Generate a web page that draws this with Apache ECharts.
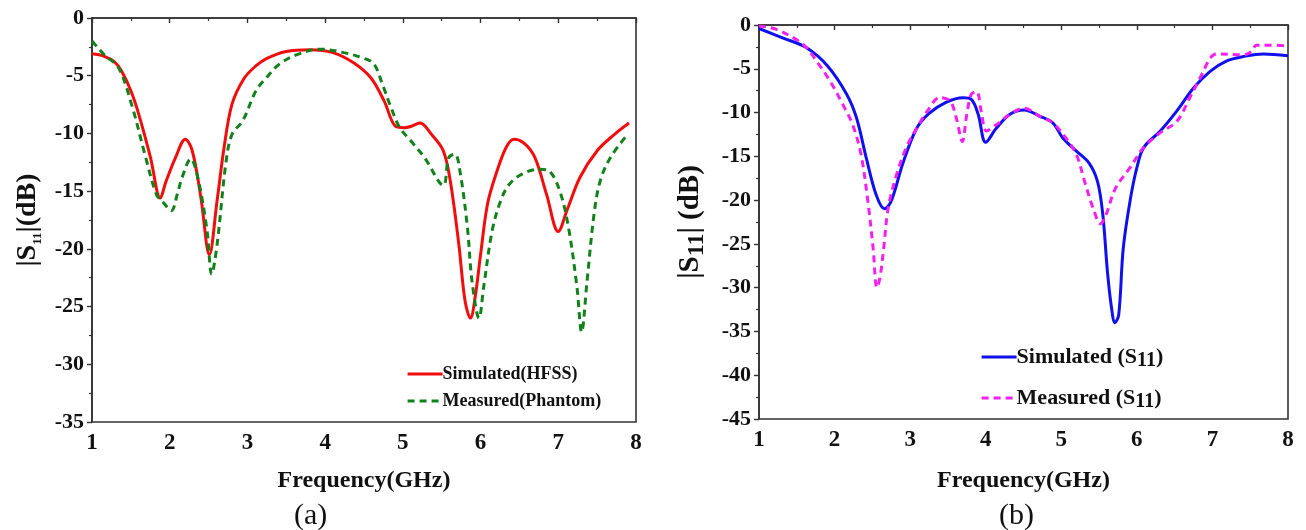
<!DOCTYPE html>
<html>
<head>
<meta charset="utf-8">
<script src="https://cdn.jsdelivr.net/npm/echarts@6/dist/echarts.min.js"></script>
<style>
  html, body { margin: 0; padding: 0; background: #fff; }
  #chart { width: 1306px; height: 530px; }
</style>
</head>
<body>
<div id="chart"></div>
<script>
// Frequency axis ticks (GHz) shared by both panels
const freqTicks = [1, 2, 3, 4, 5, 6, 7, 8];
const dbTicksA = [0, -5, -10, -15, -20, -25, -30, -35];
const dbTicksB = [0, -5, -10, -15, -20, -25, -30, -35, -40, -45];

// Panel (a): [frequency GHz, |S11| dB]
const simulatedHFSS = [
  [1.0,-3.1],[1.15,-3.3],[1.29,-3.8],[1.38,-4.6],[1.5,-6.3],[1.6,-8.3],[1.75,-12.0],
  [1.88,-15.6],[1.95,-14.2],[2.08,-12.0],[2.2,-10.5],[2.29,-11.5],[2.4,-15.5],[2.51,-20.5],
  [2.61,-15.8],[2.7,-11.2],[2.8,-7.5],[2.95,-5.3],[3.1,-4.2],[3.25,-3.5],[3.5,-2.9],
  [3.8,-2.75],[4.1,-3.0],[4.37,-3.9],[4.59,-5.2],[4.76,-7.2],[4.91,-9.4],[5.02,-9.5],
  [5.1,-9.4],[5.22,-9.1],[5.37,-10.1],[5.52,-11.5],[5.61,-14.1],[5.72,-19.6],[5.8,-24.5],
  [5.87,-26.0],[5.93,-24.2],[6.0,-20.5],[6.09,-16.1],[6.2,-13.5],[6.33,-11.2],[6.43,-10.5],
  [6.57,-10.9],[6.7,-12.1],[6.85,-15.3],[7.0,-18.5],[7.11,-16.7],[7.28,-13.8],[7.5,-11.5],
  [7.72,-10.1],[7.91,-9.1]
];
const measuredPhantom = [
  [1.0,-2.0],[1.16,-3.2],[1.34,-4.3],[1.51,-7.5],[1.68,-11.8],[1.83,-15.3],[1.92,-16.0],
  [2.02,-16.7],[2.1,-15.2],[2.16,-13.8],[2.27,-12.2],[2.37,-14.1],[2.48,-18.4],[2.54,-22.2],
  [2.61,-19.6],[2.72,-12.7],[2.8,-10.1],[2.94,-8.9],[3.11,-6.3],[3.24,-5.2],[3.41,-4.0],
  [3.63,-3.2],[3.93,-2.7],[4.24,-3.0],[4.5,-3.5],[4.63,-4.0],[4.74,-5.8],[4.85,-7.8],
  [4.96,-9.5],[5.11,-10.7],[5.28,-12.1],[5.52,-14.5],[5.59,-12.1],[5.67,-11.8],[5.74,-13.5],
  [5.83,-18.1],[5.89,-22.8],[5.98,-26.0],[6.04,-23.3],[6.15,-18.4],[6.26,-15.8],[6.37,-14.4],
  [6.54,-13.5],[6.76,-13.1],[6.89,-13.3],[7.02,-15.0],[7.13,-18.1],[7.24,-23.3],[7.3,-27.2],
  [7.37,-22.8],[7.46,-17.0],[7.54,-14.1],[7.67,-12.1],[7.89,-10.1]
];

// Panel (b): [frequency GHz, |S11| dB]
const simulatedS11 = [
  [1.0,-0.4],[1.32,-1.5],[1.63,-2.6],[1.91,-4.7],[2.16,-7.9],[2.29,-10.6],[2.42,-15.2],
  [2.55,-19.4],[2.66,-21.0],[2.75,-20.1],[2.9,-15.9],[3.08,-11.9],[3.25,-10.1],[3.48,-8.8],
  [3.7,-8.3],[3.81,-8.5],[3.9,-10.2],[4.0,-13.4],[4.14,-11.8],[4.32,-10.2],[4.51,-9.7],
  [4.71,-10.4],[4.89,-11.2],[5.02,-12.9],[5.2,-14.4],[5.37,-15.8],[5.48,-17.9],[5.55,-21.7],
  [5.61,-28.1],[5.66,-32.0],[5.71,-34.0],[5.76,-33.1],[5.82,-25.5],[5.91,-20.1],[6.0,-16.3],
  [6.09,-14.0],[6.31,-12.1],[6.53,-9.8],[6.75,-7.2],[6.97,-5.3],[7.19,-4.1],[7.41,-3.6],
  [7.67,-3.3],[8.0,-3.5]
];
const measuredS11 = [
  [1.0,-0.1],[1.23,-0.5],[1.5,-1.7],[1.63,-2.6],[1.76,-4.1],[1.94,-6.4],[2.11,-9.1],
  [2.24,-11.4],[2.35,-14.8],[2.44,-20.1],[2.51,-25.5],[2.56,-30.0],[2.6,-28.9],[2.65,-25.5],
  [2.71,-20.9],[2.82,-17.1],[2.95,-14.0],[3.08,-11.9],[3.23,-9.8],[3.39,-8.3],[3.53,-8.7],
  [3.61,-10.6],[3.69,-13.3],[3.75,-10.2],[3.81,-7.9],[3.88,-7.6],[3.94,-9.8],[4.01,-12.1],
  [4.14,-11.4],[4.32,-10.2],[4.51,-9.5],[4.71,-10.4],[4.89,-11.2],[5.06,-12.9],[5.2,-14.8],
  [5.31,-17.9],[5.42,-20.9],[5.52,-22.7],[5.59,-21.7],[5.72,-18.6],[5.91,-16.3],[6.09,-14.0],
  [6.31,-12.3],[6.53,-11.0],[6.7,-8.3],[6.84,-6.0],[6.97,-3.8],[7.05,-3.3],[7.41,-3.4],
  [7.52,-3.0],[7.58,-2.3],[7.76,-2.3],[8.0,-2.4]
];

const FONT = '"Liberation Serif", "Times New Roman", serif';
const AXIS_COLOR = '#333';

function xAxisFor(gridIndex, nameGap) {
  return {
    type: 'value', gridIndex,
    min: freqTicks[0], max: freqTicks[freqTicks.length - 1], interval: 1,
    name: 'Frequency(GHz)', nameLocation: 'middle', nameGap,
    nameTextStyle: { fontFamily: FONT, fontWeight: 'bold', fontSize: 24, color: '#111' },
    axisLine: { show: true, lineStyle: { color: AXIS_COLOR, width: 1.6 } },
    axisTick: { show: true, inside: false, length: 5, lineStyle: { color: AXIS_COLOR, width: 1.4 } },
    minorTick: { show: true, splitNumber: 2, length: 3, lineStyle: { color: AXIS_COLOR, width: 1.2 } },
    axisLabel: { fontFamily: FONT, fontWeight: 'bold', fontSize: 23, color: '#111', margin: 10 },
    splitLine: { show: false }
  };
}

function yAxisFor(gridIndex, ticks, nameRich, nameText, nameGap) {
  return {
    type: 'value', gridIndex,
    min: ticks[ticks.length - 1], max: ticks[0], interval: 5,
    name: nameText, nameLocation: 'middle', nameGap,
    nameTextStyle: { fontFamily: FONT, fontWeight: 'bold', color: '#111', rich: nameRich },
    axisLine: { show: true, lineStyle: { color: AXIS_COLOR, width: 1.6 } },
    axisTick: { show: true, inside: false, length: 5, lineStyle: { color: AXIS_COLOR, width: 1.4 } },
    minorTick: { show: true, splitNumber: 2, length: 3, lineStyle: { color: AXIS_COLOR, width: 1.2 } },
    axisLabel: { fontFamily: FONT, fontWeight: 'bold', fontSize: 22, color: '#111', margin: 8 },
    splitLine: { show: false }
  };
}

const richA = {
  t: { fontFamily: FONT, fontWeight: 'bold', fontSize: 28, color: '#111', lineHeight: 32, verticalAlign: 'middle' },
  s: { fontFamily: FONT, fontWeight: 'bold', fontSize: 13, color: '#111', lineHeight: 32, verticalAlign: 'bottom' }
};
const richB = {
  t: { fontFamily: FONT, fontWeight: 'bold', fontSize: 29, color: '#111', lineHeight: 36, verticalAlign: 'middle' },
  s: { fontFamily: FONT, fontWeight: 'bold', fontSize: 24, color: '#111', lineHeight: 36, verticalAlign: 'bottom' }
};
const legendRichB = {
  t: { fontFamily: FONT, fontWeight: 'bold', fontSize: 22, color: '#111', lineHeight: 28, verticalAlign: 'middle' },
  s: { fontFamily: FONT, fontWeight: 'bold', fontSize: 20, color: '#111', lineHeight: 28, verticalAlign: 'bottom' }
};

function lineSeries(name, data, color, dashed, axisIndex) {
  return {
    type: 'line', name, data,
    xAxisIndex: axisIndex, yAxisIndex: axisIndex,
    showSymbol: false, symbol: 'none',
    smooth: 0.35,
    lineStyle: { color, width: 3, type: dashed ? [7, 5] : 'solid' },
    itemStyle: { color },
    clip: true, animation: false
  };
}

const chart = echarts.init(document.getElementById('chart'), null, { renderer: 'canvas' });
chart.setOption({
  backgroundColor: '#fff',
  animation: false,
  grid: [
    { left: 92, top: 18, width: 544, height: 404, show: true, borderColor: AXIS_COLOR, borderWidth: 1.6, backgroundColor: 'transparent' },
    { left: 759, top: 25, width: 529, height: 394, show: true, borderColor: AXIS_COLOR, borderWidth: 1.6, backgroundColor: 'transparent' }
  ],
  xAxis: [xAxisFor(0, 47), xAxisFor(1, 50)],
  yAxis: [
    yAxisFor(0, dbTicksA, richA, '{t||S}{s|11}{t||(dB)}', 48),
    yAxisFor(1, dbTicksB, richB, '{t||S}{s|11}{t|| (dB)}', 50)
  ],
  legend: [
    {
      data: ['Simulated(HFSS)', 'Measured(Phantom)'],
      orient: 'vertical', left: 401, top: 360,
      itemWidth: 35, itemHeight: 12, itemGap: 9,
      itemStyle: { opacity: 0 },
      lineStyle: { width: 3.2 },
      textStyle: { fontFamily: FONT, fontWeight: 'bold', fontSize: 18, color: '#111', padding: [0, 0, 0, -5] },
      selectedMode: false
    },
    {
      data: ['Simulated (S11)', 'Measured (S11)'],
      orient: 'vertical', left: 975, top: 341,
      itemWidth: 35, itemHeight: 12, itemGap: 16,
      itemStyle: { opacity: 0 },
      lineStyle: { width: 3.2 },
      formatter: (n) => '{t|' + n.replace(' (S11)', ' (S') + '}{s|11}{t|)}',
      textStyle: { fontFamily: FONT, fontWeight: 'bold', fontSize: 22, color: '#111', rich: legendRichB, padding: [0, 0, 0, -5] },
      selectedMode: false
    }
  ],
  series: [
    lineSeries('Simulated(HFSS)', simulatedHFSS, '#f20d0d', false, 0),
    lineSeries('Measured(Phantom)', measuredPhantom, '#11821b', true, 0),
    lineSeries('Simulated (S11)', simulatedS11, '#1010ee', false, 1),
    lineSeries('Measured (S11)', measuredS11, '#f51ff0', true, 1)
  ],
  graphic: [
    { type: 'text', left: 294, top: 501, style: { text: '(a)', fontFamily: FONT, fontSize: 30, fill: '#111' } },
    { type: 'text', left: 999, top: 501, style: { text: '(b)', fontFamily: FONT, fontSize: 30, fill: '#111' } }
  ]
});
</script>
</body>
</html>
